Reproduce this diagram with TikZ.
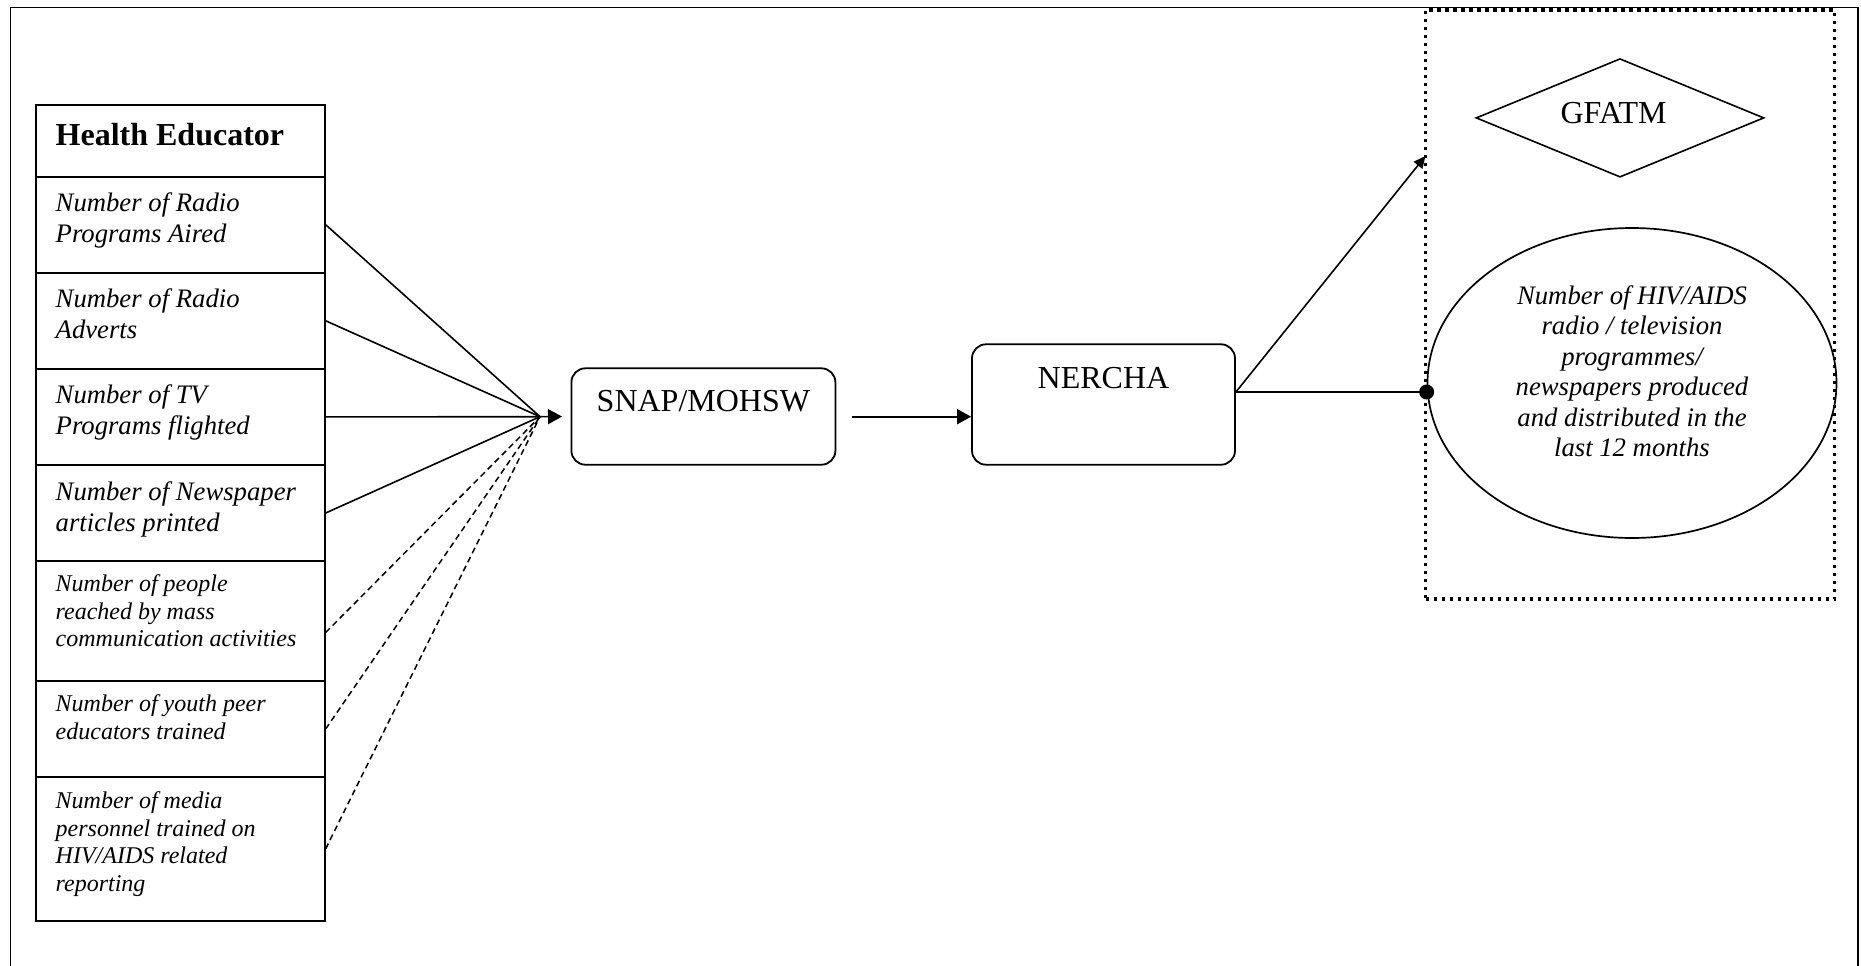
\documentclass[tikz,border=0pt]{standalone}
\usepackage{fontspec}
\setmainfont{Liberation Serif}
\usetikzlibrary{arrows.meta,shapes.geometric,calc}
\begin{document}
\begin{tikzpicture}[x=1pt,y=-1pt,
  cell/.style={draw, line width=1.8pt, minimum width=288.5pt, inner sep=0pt, anchor=north west},
  celltxt/.style={anchor=north west, inner sep=0pt, align=left, font=\fontsize{26.7}{31}\selectfont\itshape},
  smalltxt/.style={anchor=north west, inner sep=0pt, align=left, font=\fontsize{24}{27.5}\selectfont\itshape},
  bigtxt/.style={anchor=base, inner sep=0pt, font=\fontsize{32}{36}\selectfont},
  rbox/.style={draw, line width=1.8pt, rounded corners=14pt, inner sep=0pt},
  conn/.style={line width=1.6pt},
  dconn/.style={line width=1.5pt, dash pattern=on 6pt off 4pt},
  arr/.style={line width=1.6pt, -{Triangle[length=14pt,width=15pt]}},
  sarr/.style={line width=1.6pt, -{Triangle[length=12pt,width=11pt]}}]
\useasboundingbox (0,0) rectangle (1861,966);
% outer frame (open at the bottom)
\draw[line width=1.6pt] (10.5,966) -- (10.5,7.5) -- (1858,7.5) -- (1858,966);
% table
\node[cell, minimum height=71.3pt] (r1) at (35.3,104.4) {};
\node[cell, minimum height=96.1pt] (r2) at (35.3,175.7) {};
\node[cell, minimum height=96.1pt] (r3) at (35.3,271.8) {};
\node[cell, minimum height=96.2pt] (r4) at (35.3,367.9) {};
\node[cell, minimum height=96.1pt] (r5) at (35.3,464.1) {};
\node[cell, minimum height=119.9pt] (r6) at (35.3,560.2) {};
\node[cell, minimum height=96.1pt] (r7) at (35.3,680.1) {};
\node[cell, minimum height=143.6pt] (r8) at (35.3,776.2) {};
\node[anchor=base west, inner sep=0pt, font=\fontsize{32}{36}\selectfont\bfseries] (he) at (55.5,145.7) {Health Educator};
\node[celltxt] (t2) at (55.5,190) {\strut Number of Radio\\Programs Aired};
\node[celltxt] (t3) at (55.5,285.6) {\strut Number of Radio\\Adverts};
\node[celltxt] (t4) at (55.5,381.6) {\strut Number of TV\\Programs flighted};
\node[celltxt] (t5) at (55.5,478.3) {\strut Number of Newspaper\\articles printed};
\node[smalltxt] (t6) at (55.5,572.45) {\strut Number of people\\reached by mass\\communication activities};
\node[smalltxt] (t7) at (55.5,692.45) {\strut Number of youth peer\\educators trained};
\node[smalltxt] (t8) at (55.5,789.05) {\strut Number of media\\personnel trained on\\HIV/AIDS related\\reporting};
% middle boxes
\node[rbox, minimum width=264pt, minimum height=96.4pt] (snap) at (703.4,416.5) {};
\node[bigtxt] (snaptxt) at (703.4,411.7) {SNAP/MOHSW};
\node[rbox, minimum width=263pt, minimum height=120.4pt] (nercha) at (1103.5,404.5) {};
\node[bigtxt] (nerchatxt) at (1103.5,388.3) {NERCHA};
% right dotted box
\node[draw, line width=3.3pt, dash pattern=on 3.3pt off 4.7pt, minimum width=409pt, minimum height=589pt, inner sep=0pt] (dotbox) at (1630,304.5) {};
\node[draw, diamond, line width=1.6pt, minimum width=288pt, minimum height=118.6pt, inner sep=0pt] (gfatm) at (1620,117.9) {};
\node[bigtxt] (gfatmtxt) at (1613.6,123.4) {GFATM};
\node[draw, ellipse, line width=1.7pt, minimum width=409pt, minimum height=310pt, inner sep=0pt] (ell) at (1632,383) {};
\node[anchor=north, inner sep=0pt, align=center, font=\fontsize{26.7}{30.5}\selectfont\itshape] (elltxt) at (1632,282.6)
  {\strut Number of HIV/AIDS\\radio / television\\programmes/\\newspapers produced\\and distributed in the\\last 12 months};
% connectors
\coordinate (conv) at (540,416.7);
\draw[conn] (r2.east) -- (conv);
\draw[conn] (r3.east) -- (conv);
\draw[conn] (r4.east) -- (conv);
\draw[conn] (r5.east) -- (conv);
\draw[dconn] ($(r6.east)+(0,11.5)$) -- (conv);
\draw[dconn] (r7.east) -- (conv);
\draw[dconn] (r8.east) -- (conv);
\draw[arr, shorten >=8.5pt] (conv) -- (snap.west);
\coordinate (sout) at ($(snap.east)+(16,0.2)$);
\draw[arr] (sout) -- (sout -| nercha.west);
\coordinate (nout) at ($(nercha.east)+(0,-12.5)$);
\coordinate (gtip) at (1425.5,156);
\draw[sarr] (nout) -- (gtip);
\draw[conn] (nout) -- (nout -| ell.west);
\fill (nout -| ell.west) circle (7.5pt);
\end{tikzpicture}
\end{document}
